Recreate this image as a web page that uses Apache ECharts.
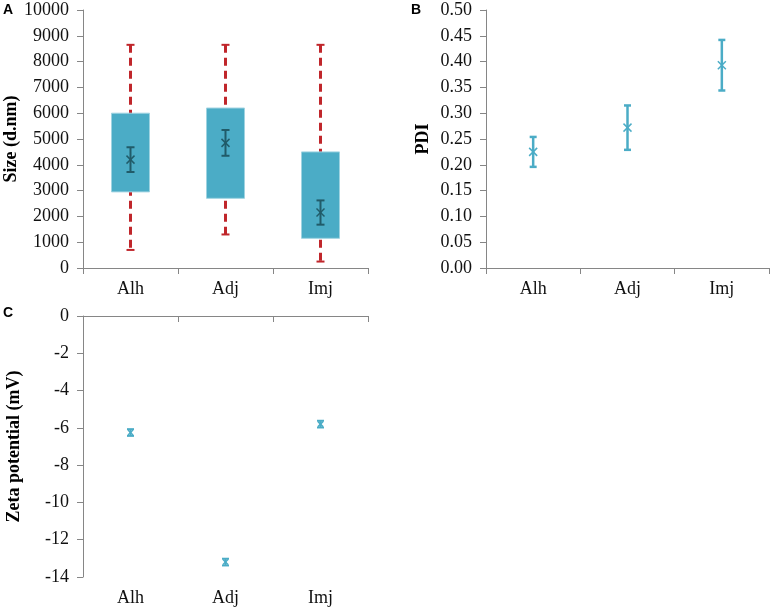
<!DOCTYPE html>
<html>
<head>
<meta charset="utf-8">
<style>
  html,body{margin:0;padding:0;background:#fff;}
  #chart{width:773px;height:612px;}
</style>
<script src="https://cdn.jsdelivr.net/npm/echarts@6/dist/echarts.min.js"></script>
</head>
<body>
<div id="chart"></div>
<script>
// categories shared by the three panels
const categories = ['Alh', 'Adj', 'Imj'];

// panel A: size box plot (whisker min, box low, box high, whisker max, mean, error)
const sizeMin = [700, 1300, 250];
const sizeQ1 = [2950, 2700, 1150];
const sizeQ3 = [6000, 6200, 4500];
const sizeMax = [8650, 8650, 8650];
const sizeMean = [4200, 4850, 2150];
const sizeErr = [480, 500, 470];

// panel B: PDI mean and error
const pdiMean = [0.225, 0.272, 0.393];
const pdiErr = [0.029, 0.043, 0.049];

// panel C: zeta potential mean and error
const zetaMean = [-6.25, -13.2, -5.8];
const zetaErr = [0.18, 0.18, 0.18];

const chart = echarts.init(document.getElementById('chart'));

const serif = '"Liberation Serif", "Times New Roman", serif';
const axisGray = '#868686';
const teal = '#4BACC6';
const darkTeal = '#215B69';
const red = '#C0262B';

// small helpers: error bar with caps, and an "x" marker
function errBar(x, yTop, yBot, capW, color, lw) {
  const st = {stroke: color, lineWidth: lw};
  return [
    {type: 'line', shape: {x1: x, y1: yTop, x2: x, y2: yBot}, style: st},
    {type: 'line', shape: {x1: x - capW / 2, y1: yTop, x2: x + capW / 2, y2: yTop}, style: st},
    {type: 'line', shape: {x1: x - capW / 2, y1: yBot, x2: x + capW / 2, y2: yBot}, style: st}
  ];
}
function xMark(x, y, s, color, lw) {
  const st = {stroke: color, lineWidth: lw};
  return [
    {type: 'line', shape: {x1: x - s, y1: y - s, x2: x + s, y2: y + s}, style: st},
    {type: 'line', shape: {x1: x - s, y1: y + s, x2: x + s, y2: y - s}, style: st}
  ];
}

function renderBox(params, api) {
  const i = api.value(0);
  const x = api.coord([i, 0])[0];
  const yMin = api.coord([i, api.value(1)])[1];
  const yQ1 = api.coord([i, api.value(2)])[1];
  const yQ3 = api.coord([i, api.value(3)])[1];
  const yMax = api.coord([i, api.value(4)])[1];
  const yMean = api.coord([i, api.value(5)])[1];
  const yErrT = api.coord([i, api.value(5) + api.value(6)])[1];
  const yErrB = api.coord([i, api.value(5) - api.value(6)])[1];
  const bw = api.size([1, 0])[0] * 0.4;
  const redSt = {stroke: red, lineWidth: 2};
  const children = [
    {type: 'line', shape: {x1: x, y1: yMax, x2: x, y2: yMin},
      style: {stroke: red, lineWidth: 3, lineDash: [8, 5]}},
    {type: 'line', shape: {x1: x - 4, y1: yMax, x2: x + 4, y2: yMax}, style: redSt},
    {type: 'line', shape: {x1: x - 4, y1: yMin, x2: x + 4, y2: yMin}, style: redSt},
    {type: 'rect', shape: {x: x - bw / 2, y: yQ3, width: bw, height: yQ1 - yQ3},
      style: {fill: teal, stroke: '#9FD3E1', lineWidth: 1}}
  ].concat(errBar(x, yErrT, yErrB, 8, darkTeal, 2), xMark(x, yMean, 4, darkTeal, 1.5));
  return {type: 'group', children: children};
}

function renderErr(capW, lw, mark) {
  return function (params, api) {
    const i = api.value(0);
    const x = api.coord([i, 0])[0];
    const yMean = api.coord([i, api.value(1)])[1];
    const yT = api.coord([i, api.value(1) + api.value(2)])[1];
    const yB = api.coord([i, api.value(1) - api.value(2)])[1];
    return {type: 'group',
      children: errBar(x, yT, yB, capW, teal, lw).concat(xMark(x, yMean, mark, teal, 1.5))};
  };
}

const boxData = categories.map((c, i) =>
  [i, sizeMin[i], sizeQ1[i], sizeQ3[i], sizeMax[i], sizeMean[i], sizeErr[i]]);
const pdiData = categories.map((c, i) => [i, pdiMean[i], pdiErr[i]]);
const zetaData = categories.map((c, i) => [i, zetaMean[i], zetaErr[i]]);

const labelStyle = {color: '#111', fontFamily: serif, fontSize: 18};
const nameStyle = {color: '#000', fontFamily: serif, fontSize: 18, fontWeight: 'bold'};

function catAxis(grid, extra) {
  return Object.assign({
    type: 'category', gridIndex: grid, data: categories,
    axisLine: {show: true, lineStyle: {color: axisGray, width: 1}},
    axisTick: {show: true, length: 6, lineStyle: {color: axisGray}},
    axisLabel: Object.assign({margin: 12}, labelStyle),
    splitLine: {show: false}
  }, extra || {});
}
function valAxis(grid, min, max, interval, name, gap, fmt) {
  return {
    type: 'value', gridIndex: grid, min: min, max: max, interval: interval,
    name: name, nameLocation: 'middle', nameGap: gap, nameRotate: 90,
    nameTextStyle: nameStyle,
    axisLine: {show: true, lineStyle: {color: axisGray, width: 1}},
    axisTick: {show: true, length: 6, lineStyle: {color: axisGray}},
    axisLabel: Object.assign({margin: 14, formatter: fmt || (v => String(v))}, labelStyle),
    splitLine: {show: false}
  };
}

chart.setOption({
  animation: false,
  backgroundColor: '#fff',
  graphic: [
    {type: 'text', left: 3, top: 3, style: {text: 'A', font: 'bold 14px "Liberation Sans", Arial', fill: '#000'}},
    {type: 'text', left: 411, top: 3, style: {text: 'B', font: 'bold 14px "Liberation Sans", Arial', fill: '#000'}},
    {type: 'text', left: 3, top: 306, style: {text: 'C', font: 'bold 14px "Liberation Sans", Arial', fill: '#000'}}
  ],
  grid: [
    {left: 83, top: 10, width: 285, height: 258, outerBoundsMode: 'none'},
    {left: 486, top: 10, width: 283, height: 258, outerBoundsMode: 'none'},
    {left: 83, top: 316, width: 285, height: 261, outerBoundsMode: 'none'}
  ],
  xAxis: [
    catAxis(0),
    catAxis(1),
    // panel C: axis line sits at 0 (top), labels at the bottom
    catAxis(2, {position: 'top', axisTick: {show: true, inside: true, length: 6, lineStyle: {color: axisGray}},
      axisLabel: {show: false}}),
    catAxis(2, {position: 'bottom', axisLine: {show: false}, axisTick: {show: false}})
  ],
  yAxis: [
    valAxis(0, 0, 10000, 1000, 'Size (d.nm)', 57),
    valAxis(1, 0, 0.5, 0.05, 'PDI', 54, v => v.toFixed(2)),
    valAxis(2, -14, 0, 2, 'Zeta potential (mV)', 60)
  ],
  series: [
    {type: 'custom', xAxisIndex: 0, yAxisIndex: 0, data: boxData, renderItem: renderBox},
    {type: 'custom', xAxisIndex: 1, yAxisIndex: 1, data: pdiData, renderItem: renderErr(7, 2.5, 4)},
    {type: 'custom', xAxisIndex: 3, yAxisIndex: 2, data: zetaData, renderItem: renderErr(7, 2, 2.5)}
  ]
});
</script>
</body>
</html>
